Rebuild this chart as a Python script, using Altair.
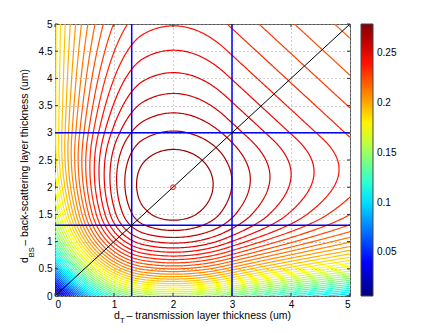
import numpy as np
import pandas as pd
import altair as alt

alt.data_transformers.disable_max_rows()

FONT = "Liberation Sans"

# ---------------- model parameters (double 10B4C layer efficiency) ----------------
SIGMA = 0.19                      # effective absorption, 1/um
FRAGMENT_RANGES = [2.9, 1.5]      # alpha and 7Li ranges, um
AXIS_MIN, AXIS_MAX = 0.0, 5.0
GRID_POINTS = 201

# ---------------- contour levels / colour bar ----------------
LEVEL_LOW = 0.0117
LEVEL_HIGH = 0.2723
N_LEVELS = 50
COLOR_MIN = 0.0063
COLOR_MAX = 0.279
jet_colors = ["#00007F", "#0000FF", "#007FFF", "#00FFFF", "#7FFF7F",
              "#FFFF00", "#FF7F00", "#FF0000", "#7F0000"]

# ---------------- ticks and guide lines ----------------
x_ticks = [0, 1, 2, 3, 4, 5]
y_ticks = [0, 0.5, 1, 1.5, 2, 2.5, 3, 3.5, 4, 4.5, 5]
cbar_ticks = [0.05, 0.1, 0.15, 0.2, 0.25]
vertical_marks = [1.3, 3.0]
horizontal_marks = [1.3, 3.0]
diag_x = [0, 5]
diag_y = [0, 5]
opt_x = [2.0]
opt_y = [2.0]


def bs_eff(d, R, s):
    m = np.minimum(d, R)
    E = np.exp(-s * m)
    return 0.5 * ((1 - E) - ((1 - E) / s - m * E) / R)


def t_eff(d, R, s):
    m = np.minimum(d, R)
    G = np.exp(s * m)
    return 0.5 * np.exp(-s * d) * ((G - 1) - (m * G - (G - 1) / s) / R)


def efficiency(dT, dBS):
    eps_bs = sum(bs_eff(dBS, R, SIGMA) for R in FRAGMENT_RANGES)
    eps_t = sum(t_eff(dT, R, SIGMA) for R in FRAGMENT_RANGES)
    return eps_bs + np.exp(-SIGMA * dBS) * eps_t


xs = np.linspace(AXIS_MIN, AXIS_MAX, GRID_POINTS)
ys = np.linspace(AXIS_MIN, AXIS_MAX, GRID_POINTS)
XX, YY = np.meshgrid(xs, ys)
Z = efficiency(XX, YY)


def node_point(node, level):
    kind, j, i = node
    if kind == "h":
        z0, z1 = Z[j, i], Z[j, i + 1]
        t = (level - z0) / (z1 - z0)
        return xs[i] + t * (xs[i + 1] - xs[i]), ys[j]
    z0, z1 = Z[j, i], Z[j + 1, i]
    t = (level - z0) / (z1 - z0)
    return xs[i], ys[j] + t * (ys[j + 1] - ys[j])


def contour_paths(level):
    above = Z >= level
    a00 = above[:-1, :-1]
    a10 = above[:-1, 1:]
    a01 = above[1:, :-1]
    a11 = above[1:, 1:]
    code = a00 * 1 + a10 * 2 + a11 * 4 + a01 * 8
    js, iis = np.nonzero((code != 0) & (code != 15))
    adj = {}

    def link(a, b):
        adj.setdefault(a, []).append(b)
        adj.setdefault(b, []).append(a)

    for j, i in zip(js.tolist(), iis.tolist()):
        B = ("h", j, i)
        Rt = ("v", j, i + 1)
        T = ("h", j + 1, i)
        L = ("v", j, i)
        crossed = []
        if a00[j, i] != a10[j, i]:
            crossed.append(B)
        if a10[j, i] != a11[j, i]:
            crossed.append(Rt)
        if a01[j, i] != a11[j, i]:
            crossed.append(T)
        if a00[j, i] != a01[j, i]:
            crossed.append(L)
        if len(crossed) == 2:
            link(crossed[0], crossed[1])
        elif len(crossed) == 4:
            center = Z[j:j + 2, i:i + 2].mean() >= level
            if center == a00[j, i]:
                link(B, Rt)
                link(T, L)
            else:
                link(B, L)
                link(T, Rt)

    visited = set()

    def walk(start):
        path = [start]
        visited.add(start)
        cur = start
        while True:
            nxt = [n for n in adj[cur] if n not in visited]
            if not nxt:
                break
            cur = nxt[0]
            visited.add(cur)
            path.append(cur)
        return path

    paths = []
    for node, nb in adj.items():
        if len(nb) == 1 and node not in visited:
            paths.append(walk(node))
    for node in list(adj.keys()):
        if node not in visited:
            p = walk(node)
            p.append(p[0])
            paths.append(p)
    return paths


levels = np.linspace(LEVEL_LOW, LEVEL_HIGH, N_LEVELS)
rows = []
for k, lev in enumerate(levels):
    for p_idx, path in enumerate(contour_paths(lev)):
        for o, node in enumerate(path):
            px, py = node_point(node, lev)
            rows.append({"x": round(float(px), 4), "y": round(float(py), 4),
                         "level": round(float(lev), 5), "path": f"{k}-{p_idx}", "ord": o})
contour_df = pd.DataFrame(rows)

W, H = 295, 272
xscale = alt.Scale(domain=[AXIS_MIN, AXIS_MAX], nice=False, zero=False)
yscale = alt.Scale(domain=[AXIS_MIN, AXIS_MAX], nice=False, zero=False)
xaxis = alt.Axis(values=x_ticks, title=None, ticks=False, domain=False, grid=True,
                 gridDash=[1, 3], gridColor="#a0a0a0", gridWidth=1, labelPadding=3,
                 format="~g", labelFontSize=10, labelFont=FONT, labelColor="black")
yaxis = alt.Axis(values=y_ticks, title=None, ticks=False, domain=False, grid=True,
                 gridDash=[1, 3], gridColor="#a0a0a0", gridWidth=1, labelPadding=3,
                 format="~g", labelFontSize=10, labelFont=FONT, labelColor="black")


def X(field):
    return alt.X(field, type="quantitative", scale=xscale, axis=xaxis)


def Y(field):
    return alt.Y(field, type="quantitative", scale=yscale, axis=yaxis)


jet_domain = np.linspace(COLOR_MIN, COLOR_MAX, len(jet_colors)).tolist()

contours = alt.Chart(contour_df).mark_line(strokeWidth=1.2, clip=True).encode(
    x=X("x"), y=Y("y"),
    color=alt.Color("level:Q",
                    scale=alt.Scale(domain=jet_domain, range=jet_colors, interpolate="rgb"),
                    legend=alt.Legend(title=None, orient="none", legendX=306, legendY=0,
                                      direction="vertical", gradientLength=272,
                                      gradientThickness=12, values=cbar_ticks, format="~g",
                                      labelFontSize=10, labelFont=FONT, labelColor="black",
                                      labelOffset=4, gradientStrokeColor="#444444",
                                      gradientStrokeWidth=1, padding=0, labelOverlap=False)),
    detail="path:N",
    order="ord:Q",
)

vlines = alt.Chart(pd.DataFrame({"v": vertical_marks})).mark_rule(
    color="#0000FF", strokeWidth=1.5).encode(x=X("v"))
hlines = alt.Chart(pd.DataFrame({"v": horizontal_marks})).mark_rule(
    color="#0000FF", strokeWidth=1.5).encode(y=Y("v"))
diag = alt.Chart(pd.DataFrame({"x": diag_x, "y": diag_y})).mark_line(
    color="black", strokeWidth=1).encode(x=X("x"), y=Y("y"))
opt = alt.Chart(pd.DataFrame({"x": opt_x, "y": opt_y})).mark_point(
    shape="circle", filled=False, color="#FF0000", size=22, strokeWidth=1, opacity=1
).encode(x=X("x"), y=Y("y"))

TICK = 3
tick_color = "#333333"
xt = pd.DataFrame({"v": x_ticks})
yt = pd.DataFrame({"v": y_ticks})
tick_b = alt.Chart(xt).mark_rule(color=tick_color).encode(x=X("v"), y=alt.value(H), y2=alt.value(H - TICK))
tick_t = alt.Chart(xt).mark_rule(color=tick_color).encode(x=X("v"), y=alt.value(0), y2=alt.value(TICK))
tick_l = alt.Chart(yt).mark_rule(color=tick_color).encode(y=Y("v"), x=alt.value(0), x2=alt.value(TICK))
tick_r = alt.Chart(yt).mark_rule(color=tick_color).encode(y=Y("v"), x=alt.value(W), x2=alt.value(W - TICK))


def label(text, x, y, size=10.5, angle=0):
    props = dict(font=FONT, fontSize=size, align="left", baseline="alphabetic", color="black")
    if angle:
        props["angle"] = angle
    return alt.Chart(pd.DataFrame({"t": [text]})).mark_text(**props).encode(
        x=alt.value(x), y=alt.value(y), text="t:N")


xt1 = label("d", 59, 294.5)
xt2 = label("T", 64.9, 299.2, size=7.5)
xt3 = label(" \u2013 transmission layer thickness (um)", 71.5, 294.5)
yt1 = label("d", -26.7, 239, angle=270)
yt2 = label("BS", -21.5, 233.2, size=7.5, angle=270)
yt3 = label(" \u2013 back-scattering layer thickness (um)", -26.7, 221.7, angle=270)

chart = alt.layer(
    contours, vlines, hlines, diag, opt, tick_b, tick_t, tick_l, tick_r,
    xt1, xt2, xt3, yt1, yt2, yt3
).properties(
    width=W, height=H,
    autosize=alt.AutoSizeParams(type="none"),
    padding={"left": 47, "top": 16, "right": 60, "bottom": 28},
).configure(font=FONT).configure_view(stroke="#555555", strokeWidth=1)

chart.save("out.html", embed_options={"renderer": "svg", "actions": False})
